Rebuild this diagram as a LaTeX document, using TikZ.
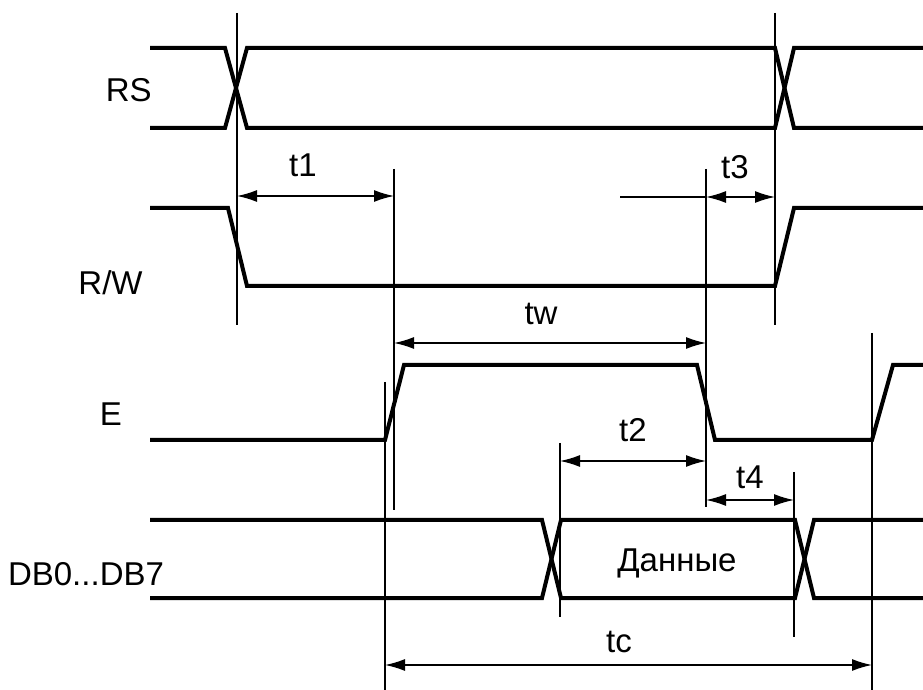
\documentclass[tikz,border=0pt]{standalone}
\usepackage{fontspec}
\setmainfont{Liberation Sans}
\usepackage{tikz}
\usetikzlibrary{arrows.meta}

\begin{document}
\begin{tikzpicture}[x=0.5pt, y=-0.5pt,
        signal/.style={line width=2pt},
        guide/.style={line width=0.75pt},
        dimline/.style={line width=0.75pt, {Latex[length=10pt,width=6pt]}-{Latex[length=10pt,width=6pt]}},
        lbl/.style={font=\fontsize{16.5}{20}\selectfont, inner sep=0pt, anchor=base}]
        	\useasboundingbox (0,0) rectangle (923,690);
        	% signal names
        	\node [lbl, anchor=base east] (rs) at (152,102) {RS};
        	\node [lbl, anchor=base east] (rw) at (143,295) {R/W};
        	\node [lbl] (e) at (111,426) {E};
        	\node [lbl] (db) at (86,585) {DB0...DB7};
        	% RS
        	\draw [signal] (150,48) -- (225,48) -- (247,128) -- (775,128) -- (794,48) -- (923,48);
        	\draw [signal] (150,128) -- (225,128) -- (247,48) -- (775,48) -- (794,128) -- (923,128);
        	% R/W
        	\draw [signal] (150,208) -- (228,208) -- (247,286) -- (775,286) -- (794,208) -- (923,208);
        	% E
        	\draw [signal] (150,440) -- (385,440) -- (404,365) -- (697,365) -- (715,440) -- (872,440) -- (893,365) -- (923,365);
        	% DB0...DB7
        	\draw [signal] (150,520) -- (542,520) -- (561,598) -- (795,598) -- (814,520) -- (923,520);
        	\draw [signal] (150,598) -- (542,598) -- (561,520) -- (795,520) -- (814,598) -- (923,598);
        	\node [lbl] (data) at (677,571) {Данные};
        	% time marks
        	\draw [guide] (237,13) -- (237,325);
        	\draw [guide] (775,13) -- (775,325);
        	\draw [guide] (394,169) -- (394,510);
        	\draw [guide] (706,169) -- (706,507);
        	\draw [guide] (385,382) -- (385,690);
        	\draw [guide] (872,333) -- (872,690);
        	\draw [guide] (560,443) -- (560,617);
        	\draw [guide] (794,472) -- (794,637);
        	% intervals
        	\coordinate (t1a) at (237,196);
        	\coordinate (t1b) at (394,196);
        	\coordinate (t3o) at (620,197);
        	\coordinate (t3a) at (706,197);
        	\coordinate (t3b) at (775,197);
        	\coordinate (twa) at (394,343);
        	\coordinate (twb) at (706,343);
        	\coordinate (t2a) at (560,461);
        	\coordinate (t2b) at (706,461);
        	\coordinate (t4a) at (706,500);
        	\coordinate (t4b) at (794,500);
        	\coordinate (tca) at (385,665);
        	\coordinate (tcb) at (872,665);
        	\draw [dimline] (t1a) -- (t1b);
        	\draw [guide] (t3o) -- (t3a);
        	\draw [dimline] (t3a) -- (t3b);
        	\draw [dimline] (twa) -- (twb);
        	\draw [dimline] (t2a) -- (t2b);
        	\draw [dimline] (t4a) -- (t4b);
        	\draw [dimline] (tca) -- (tcb);
        	\node [lbl] (lt1) at (303,177) {t1};
        	\node [lbl] (lt3) at (735,179) {t3};
        	\node [lbl] (ltw) at (541,325) {tw};
        	\node [lbl] (lt2) at (633,442) {t2};
        	\node [lbl] (lt4) at (750,488) {t4};
        	\node [lbl] (ltc) at (619,653) {tc};
        \end{tikzpicture}
\end{document}
